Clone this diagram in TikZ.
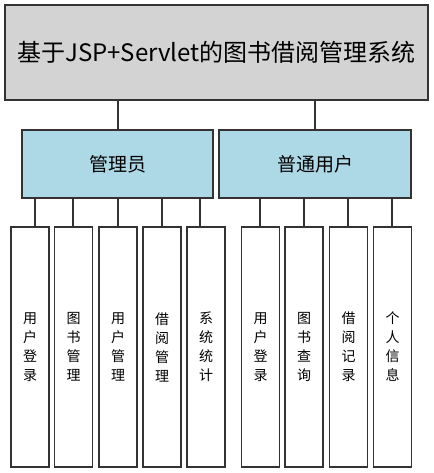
\documentclass[tikz,border=0pt]{standalone}
\usepackage{fontspec}
\setmainfont{Noto Sans CJK SC}
\begin{document}
\begin{tikzpicture}[x=1pt,y=-1pt,
  box/.style={draw=black!80,line width=1.3pt,inner sep=0pt},
  leaf/.style={box,fill=white,minimum width=38pt,minimum height=240pt,align=center,font=\fontsize{14}{19}\selectfont},
  link/.style={draw=black!80,line width=1.3pt}]
\useasboundingbox (0,0) rectangle (433,473);
\definecolor{lb}{HTML}{ADD8E6}
\definecolor{lg}{HTML}{D3D3D3}
\node[box,fill=lg,minimum width=423pt,minimum height=95pt,font=\fontsize{24}{28}\selectfont] (root) at (216.5,52.5) {基于JSP+Servlet的图书借阅管理系统};
\node[box,fill=lb,minimum width=191pt,minimum height=68pt,font=\fontsize{19}{22}\selectfont] (admin) at (117.5,164) {管理员};
\node[box,fill=lb,minimum width=192pt,minimum height=68pt,font=\fontsize{19}{22}\selectfont] (user) at (315,164) {普通用户};
\node[leaf] (a1) at (30,347) {用\\户\\登\\录};
\node[leaf] (a2) at (73.5,347) {图\\书\\管\\理};
\node[leaf] (a3) at (118,347) {用\\户\\管\\理};
\node[leaf] (a4) at (162,347) {借\\阅\\管\\理};
\node[leaf] (a5) at (206,347) {系\\统\\统\\计};
\node[leaf] (u1) at (260.5,347) {用\\户\\登\\录};
\node[leaf] (u2) at (304,347) {图\\书\\查\\询};
\node[leaf] (u3) at (348.5,347) {借\\阅\\记\\录};
\node[leaf] (u4) at (392.5,347) {个\\人\\信\\息};
\foreach \n/\x in {r1/118,r2/315,c1/35,c2/73,c3/118,c4/162,c5/200,d1/260,d2/304,d3/348,d4/392}
  \coordinate (\n) at (\x,0);
\draw[link] (root.south -| r1) -- (admin.north -| r1);
\draw[link] (root.south -| r2) -- (user.north -| r2);
\foreach \c/\t in {c1/a1,c2/a2,c3/a3,c4/a4,c5/a5}
  \draw[link] (admin.south -| \c) -- (\t.north -| \c);
\foreach \c/\t in {d1/u1,d2/u2,d3/u3,d4/u4}
  \draw[link] (user.south -| \c) -- (\t.north -| \c);
\end{tikzpicture}
\end{document}
